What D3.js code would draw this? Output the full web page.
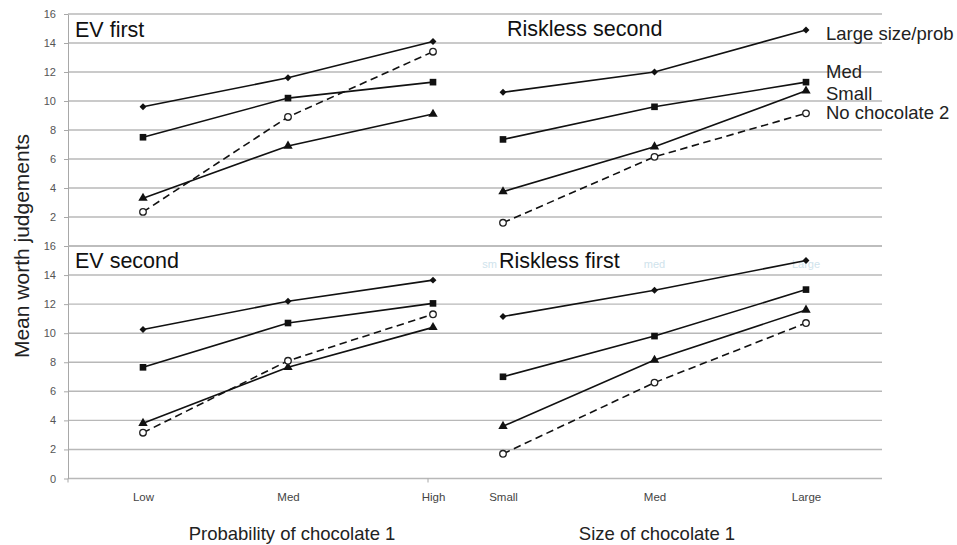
<!DOCTYPE html>
<html>
<head>
  <meta charset="utf-8">
  <title>Mean worth judgements</title>
  <script src="https://cdn.jsdelivr.net/npm/d3@7"></script>
  <style>
    body { margin: 0; background: #fff; }
    svg { display: block; font-family: "Liberation Sans", Arial, sans-serif; }
    .grid line { stroke: #b8b8b8; stroke-width: 1.4px; }
    .yaxis path, .yaxis line { stroke: #a8a8a8; }
    .yaxis text { fill: #555; font-size: 11px; }
    .xaxis text { fill: #444; font-size: 11.5px; }
    .series { fill: none; stroke: #111; stroke-width: 1.6px; }
  </style>
</head>
<body>
<script>
  // categories
  const probCats = ["Low", "Med", "High"];
  const sizeCats = ["Small", "Med", "Large"];
  const seriesNames = ["Large size/prob", "Med", "Small", "No chocolate 2"];
  const yTicks = [0, 2, 4, 6, 8, 10, 12, 14, 16];

  // values per panel, rows in order of seriesNames
  const evFirst = [
    [9.6, 11.6, 14.1],
    [7.5, 10.2, 11.3],
    [3.3, 6.9, 9.1],
    [2.35, 8.9, 13.4]
  ];
  const risklessSecond = [
    [10.6, 12.0, 14.9],
    [7.35, 9.6, 11.3],
    [3.75, 6.85, 10.7],
    [1.6, 6.15, 9.15]
  ];
  const evSecond = [
    [10.25, 12.2, 13.65],
    [7.65, 10.7, 12.05],
    [3.8, 7.65, 10.4],
    [3.15, 8.1, 11.3]
  ];
  const risklessFirst = [
    [11.15, 12.95, 15.0],
    [7.0, 9.8, 13.0],
    [3.6, 8.15, 11.6],
    [1.7, 6.6, 10.7]
  ];

  const w = 957, h = 545;
  const axisX = 68, gridEnd = 882;

  const svg = d3.select("body").append("svg")
    .attr("width", w)
    .attr("height", h);

  // scales
  const xLeft = d3.scalePoint().domain(probCats).range([143, 433]);
  const xRight = d3.scalePoint().domain(sizeCats).range([503, 806]);
  const yTop = d3.scaleLinear().domain([0, 16]).range([246, 14]);
  const yBot = d3.scaleLinear().domain([0, 16]).range([478.5, 246]);

  // gridlines + y axes (top panel's 0 sits under the lower panel's 16)
  [yTop, yBot].forEach(function (y, k) {
    svg.append("g").attr("class", "grid")
      .selectAll("line")
      .data(yTicks)
      .enter().append("line")
      .attr("x1", axisX).attr("x2", gridEnd)
      .attr("y1", d => y(d)).attr("y2", d => y(d));

    svg.append("g").attr("class", "yaxis")
      .attr("transform", "translate(" + axisX + ",0)")
      .call(d3.axisLeft(y)
        .tickValues(k === 0 ? yTicks.slice(1) : yTicks)
        .tickSize(4).tickSizeOuter(0).tickPadding(8));
  });

  // small ticks under bottom axis
  svg.append("g").selectAll("line")
    .data([axisX, 428])
    .enter().append("line")
    .attr("x1", d => d).attr("x2", d => d)
    .attr("y1", yBot(0)).attr("y2", yBot(0) + 4)
    .attr("stroke", "#a8a8a8");

  // category labels
  [xLeft, xRight].forEach(function (x) {
    const g = svg.append("g").attr("class", "xaxis")
      .attr("transform", "translate(0," + yBot(0) + ")")
      .call(d3.axisBottom(x).tickSize(0).tickPadding(14));
    g.select(".domain").remove();
  });

  // faint leftover labels in lower right panel
  const ghostLabels = ["sm", "med", "Large"];
  svg.append("g").selectAll("text")
    .data(ghostLabels)
    .enter().append("text")
    .attr("x", (d, i) => i === 0 ? xRight(sizeCats[0]) - 6 : xRight(sizeCats[i]))
    .attr("y", 268)
    .attr("text-anchor", (d, i) => i === 0 ? "end" : "middle")
    .attr("font-size", "11px")
    .attr("fill", "#cfe3ec")
    .text(d => d);

  // marker symbols
  const symbols = [
    d3.symbol().type(d3.symbolSquare).size(24),
    d3.symbol().type(d3.symbolSquare).size(44),
    d3.symbol().type(d3.symbolTriangle).size(38),
    d3.symbol().type(d3.symbolCircle).size(34)
  ];

  const panels = [
    { title: "EV first", data: evFirst, x: xLeft, cats: probCats, y: yTop, tx: 75, ty: 37 },
    { title: "Riskless second", data: risklessSecond, x: xRight, cats: sizeCats, y: yTop, tx: 507, ty: 36 },
    { title: "EV second", data: evSecond, x: xLeft, cats: probCats, y: yBot, tx: 75, ty: 268 },
    { title: "Riskless first", data: risklessFirst, x: xRight, cats: sizeCats, y: yBot, tx: 499, ty: 268 }
  ];

  panels.forEach(function (p) {
    const line = d3.line()
      .x((d, i) => p.x(p.cats[i]))
      .y(d => p.y(d));

    p.data.forEach(function (vals, s) {
      svg.append("path")
        .attr("class", "series")
        .attr("d", line(vals))
        .attr("stroke-dasharray", s === 3 ? "7.5,4.5" : null);

      svg.append("g").selectAll("path")
        .data(vals)
        .enter().append("path")
        .attr("d", symbols[s])
        .attr("transform", function (d, i) {
          const rot = s === 0 ? " rotate(45)" : "";
          return "translate(" + p.x(p.cats[i]) + "," + p.y(d) + ")" + rot;
        })
        .attr("fill", s === 3 ? "#fff" : "#111")
        .attr("stroke", s === 3 ? "#222" : "none")
        .attr("stroke-width", 1.3);
    });

    svg.append("text")
      .attr("x", p.tx).attr("y", p.ty)
      .attr("font-size", "21.5px")
      .attr("fill", "#111")
      .text(p.title);
  });

  // legend at the right of the top panel
  const legendY = [40, 78, 100, 119];
  svg.append("g").selectAll("text")
    .data(seriesNames)
    .enter().append("text")
    .attr("x", 826)
    .attr("y", (d, i) => legendY[i])
    .attr("font-size", "18.5px")
    .attr("fill", "#222")
    .text(d => d);

  // axis titles
  svg.append("text")
    .attr("x", 292).attr("y", 540)
    .attr("text-anchor", "middle")
    .attr("font-size", "18.5px")
    .attr("fill", "#222")
    .text("Probability of chocolate 1");

  svg.append("text")
    .attr("x", 657).attr("y", 540)
    .attr("text-anchor", "middle")
    .attr("font-size", "18.5px")
    .attr("fill", "#222")
    .text("Size of chocolate 1");

  svg.append("text")
    .attr("transform", "translate(29,246) rotate(-90)")
    .attr("text-anchor", "middle")
    .attr("font-size", "21px")
    .attr("fill", "#222")
    .text("Mean worth judgements");
</script>
</body>
</html>
